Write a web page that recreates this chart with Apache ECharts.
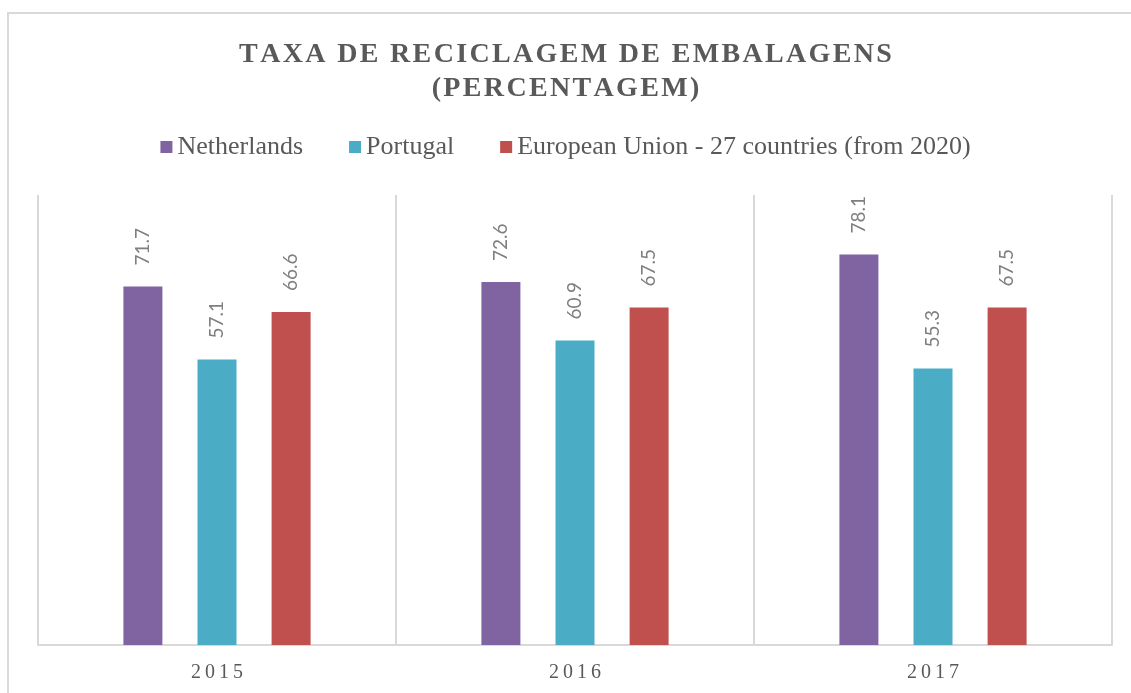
<!DOCTYPE html>
<html>
<head>
<meta charset="utf-8">
<script src="https://cdn.jsdelivr.net/npm/echarts@6/dist/echarts.min.js"></script>
<style>
  html, body { margin: 0; padding: 0; background: #fff; }
  #chart { width: 1131px; height: 693px; }
</style>
</head>
<body>
<div id="chart"></div>
<script>
const years = ['2015', '2016', '2017'];
const netherlands = [71.7, 72.6, 78.1];
const portugal = [57.1, 60.9, 55.3];
const euUnion = [66.6, 67.5, 67.5];
const seriesNames = ['Netherlands', 'Portugal', 'European Union - 27 countries (from 2020)'];
const colors = ['#8064a2', '#4bacc6', '#c0504d'];

// letter spacing trick: small spaces between characters
const spaced = (s, sp) => s.split('').join(sp || '\u2009');

const chart = echarts.init(document.getElementById('chart'));

const labelStyle = {
  show: true,
  position: 'top',
  rotate: 90,
  align: 'left',
  verticalAlign: 'middle',
  distance: 21,
  color: '#7f7f7f',
  fontFamily: 'Lato',
  fontSize: 19
};

const makeSeries = (name, data, i) => ({
  name: name,
  type: 'bar',
  data: data,
  barWidth: 39,
  barGap: '90%',
  itemStyle: { color: colors[i] },
  label: labelStyle
});

chart.setOption({
  animation: false,
  graphic: [{
    type: 'rect',
    shape: { x: 8, y: 13, width: 1300, height: 900 },
    style: { fill: 'none', stroke: '#d9d9d9', lineWidth: 2 },
    silent: true
  }],
  title: {
    text: spaced('TAXA DE RECICLAGEM DE EMBALAGENS', '\u200A') + '\n' + spaced('(PERCENTAGEM)', '\u200A'),
    left: 'center',
    top: 33,
    textStyle: {
      fontFamily: 'Liberation Serif',
      fontWeight: 'bold',
      fontSize: 28,
      color: '#595959',
      lineHeight: 34
    }
  },
  legend: {
    data: seriesNames,
    top: 129,
    left: 'center',
    icon: 'rect',
    itemWidth: 12,
    itemHeight: 12,
    itemGap: 46,
    textStyle: {
      fontFamily: 'Liberation Serif',
      fontSize: 26,
      color: '#595959'
    }
  },
  grid: { left: 38, right: 19, top: 195, bottom: 48 },
  xAxis: {
    type: 'category',
    data: years,
    axisLine: { lineStyle: { color: '#d9d9d9', width: 2 } },
    axisTick: { show: false },
    splitLine: { show: true, lineStyle: { color: '#d9d9d9', width: 2 } },
    axisLabel: {
      formatter: v => spaced(v),
      margin: 18,
      fontFamily: 'Liberation Serif',
      fontSize: 20,
      color: '#595959'
    }
  },
  yAxis: {
    type: 'value',
    min: 0,
    max: 90,
    show: false
  },
  series: [
    makeSeries(seriesNames[0], netherlands, 0),
    makeSeries(seriesNames[1], portugal, 1),
    makeSeries(seriesNames[2], euUnion, 2)
  ]
});
</script>
</body>
</html>
